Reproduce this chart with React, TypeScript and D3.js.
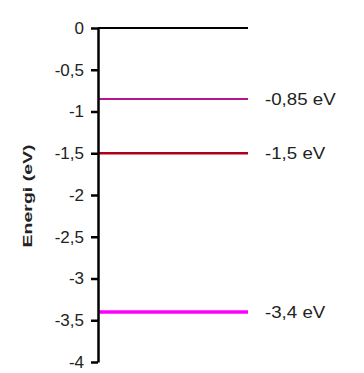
import { useEffect, useRef } from 'react';
import * as d3 from 'd3';

const levels = [0, -0.85, -1.5, -3.4];
const levelLabels = ['', '-0,85 eV', '-1,5 eV', '-3,4 eV'];
const levelColors = ['#000000', '#b3168f', '#b00018', '#ff00ff'];
const levelWidths = [2, 2, 2.5, 3.5];
const tickValues = [0, -0.5, -1, -1.5, -2, -2.5, -3, -3.5, -4];

const FONT = 'Liberation Sans, Arial, sans-serif';

const App = () => {
	const ref = useRef<SVGSVGElement>(null);

	useEffect(() => {
		const width = 364,
			height = 373;
		const axisX = 98,
			lineEnd = 248;

		const svg = d3.select(ref.current).attr('width', width).attr('height', height);
		svg.selectAll('*').remove();

		const y = d3.scaleLinear().domain([0, -4]).range([28, 362]);

		// level lines
		svg
			.selectAll('line.level')
			.data(levels)
			.enter()
			.append('line')
			.attr('class', 'level')
			.attr('x1', axisX)
			.attr('x2', lineEnd)
			.attr('y1', (d) => y(d))
			.attr('y2', (d) => y(d))
			.attr('stroke', (d, i) => levelColors[i])
			.attr('stroke-width', (d, i) => levelWidths[i]);

		svg
			.selectAll('text.level')
			.data(levels)
			.enter()
			.append('text')
			.attr('class', 'level')
			.attr('transform', (d) => `translate(265, ${y(d)}) scale(1.1, 1)`)
			.attr('dy', '0.35em')
			.attr('font-family', FONT)
			.attr('font-size', 17)
			.attr('fill', '#222')
			.text((d, i) => levelLabels[i]);

		// y axis
		const yAxis = d3
			.axisLeft(y)
			.tickValues(tickValues)
			.tickSize(7)
			.tickSizeOuter(0)
			.tickPadding(7)
			.tickFormat((d) => String(d).replace('.', ','));

		const g = svg.append('g').attr('transform', `translate(${axisX}, 0)`).call(yAxis);
		g.select('.domain').attr('stroke', '#000').attr('stroke-width', 2.5);
		g.selectAll('.tick line').attr('stroke', '#000').attr('stroke-width', 2.5);
		g.selectAll('.tick text')
			.attr('font-family', FONT)
			.attr('font-size', 17)
			.attr('fill', '#222');

		svg
			.append('text')
			.attr('transform', `translate(32, ${y(-2) + 1}) rotate(-90)`)
			.attr('text-anchor', 'middle')
			.attr('font-family', FONT)
			.attr('font-size', 13)
			.attr('font-weight', 'bold')
			.attr('fill', '#222')
			.attr('textLength', 103)
			.attr('lengthAdjust', 'spacingAndGlyphs')
			.text('Energi (eV)');
	}, []);

	return <svg ref={ref} style={{ position: 'absolute', left: 0, top: 0 }} />;
};

export default App;
